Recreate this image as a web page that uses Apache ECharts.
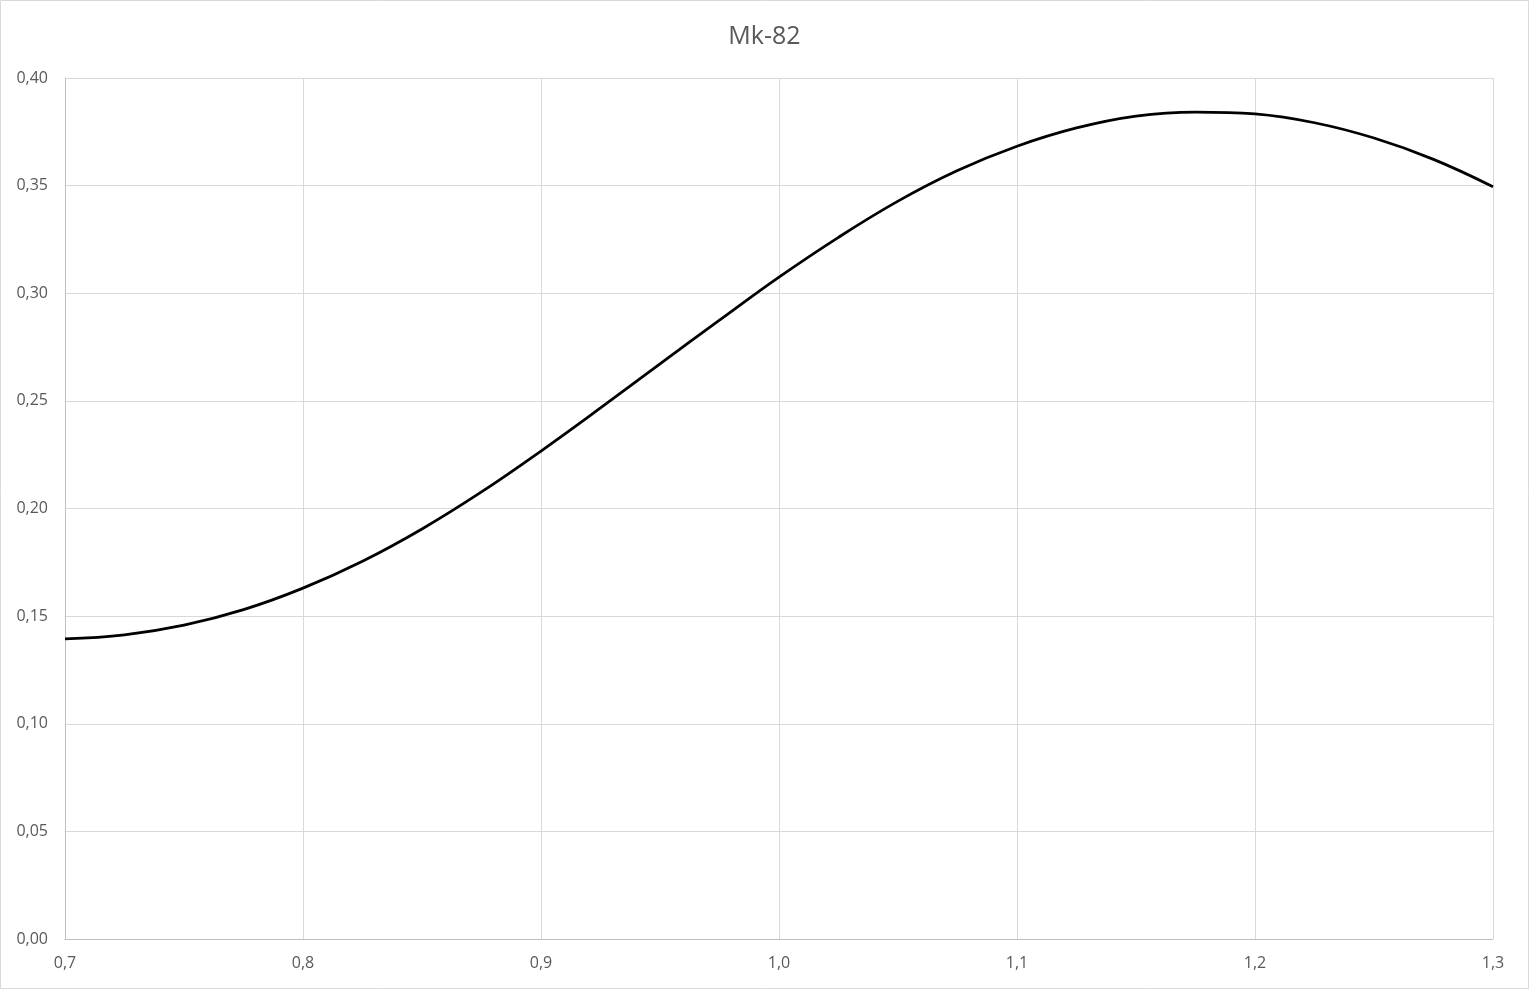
<!DOCTYPE html>
<html>
<head>
<meta charset="utf-8">
<script src="https://cdn.jsdelivr.net/npm/echarts@6/dist/echarts.min.js"></script>
<style>
  html, body { margin: 0; padding: 0; background: #fff; }
  #chart { width: 1529px; height: 989px; }
</style>
</head>
<body>
<div id="chart"></div>
<script>
// Mach number vs drag coefficient
const machValues = [0.7, 0.725, 0.75, 0.775, 0.8, 0.825, 0.85, 0.875, 0.9, 0.925, 0.95, 0.975,
  1.0, 1.025, 1.05, 1.075, 1.1, 1.125, 1.15, 1.175, 1.2, 1.225, 1.25, 1.275, 1.3]
const cdValues = [0.1394, 0.1413, 0.1458, 0.1530, 0.1630, 0.1755, 0.1905, 0.2077, 0.2267, 0.2467, 0.2672, 0.2875,
  0.3075, 0.3260, 0.3428, 0.3570, 0.3683, 0.3768, 0.3823, 0.3842, 0.3833, 0.3792, 0.3721, 0.3622, 0.3495]
const titleText = 'Mk-82'

const points = machValues.map((m, i) => [m, cdValues[i]])
const fontFamily = '"Open Sans", "Noto Sans", sans-serif'

let myChart = echarts.init(document.getElementById('chart'))
let option = {
  animation: false,
  backgroundColor: '#fff',
  title: {
    text: titleText,
    left: 'center',
    top: 19,
    textStyle: { color: '#595959', fontSize: 25, fontWeight: 'normal', fontFamily: fontFamily }
  },
  graphic: [{
    type: 'rect',
    shape: { x: 0.5, y: 0.5, width: 1528, height: 988 },
    style: { fill: 'none', stroke: '#d9d9d9', lineWidth: 1 },
    silent: true
  }],
  grid: { left: 65, right: 36, top: 78, bottom: 50, containLabel: false },
  xAxis: {
    type: 'value',
    min: 0.7,
    max: 1.3,
    interval: 0.1,
    axisLine: { show: true, lineStyle: { color: '#bfbfbf', width: 1 } },
    axisTick: { show: false },
    splitLine: { show: true, lineStyle: { color: '#d9d9d9', width: 1 } },
    axisLabel: {
      color: '#595959', fontSize: 16, fontFamily: fontFamily, margin: 16,
      formatter: v => v.toFixed(1).replace('.', ',')
    }
  },
  yAxis: {
    type: 'value',
    min: 0,
    max: 0.4,
    interval: 0.05,
    axisLine: { show: true, lineStyle: { color: '#bfbfbf', width: 1 } },
    axisTick: { show: false },
    splitLine: { show: true, lineStyle: { color: '#d9d9d9', width: 1 } },
    axisLabel: {
      color: '#595959', fontSize: 16, fontFamily: fontFamily, margin: 17,
      formatter: v => v.toFixed(2).replace('.', ',')
    }
  },
  series: [{
    type: 'line',
    data: points,
    smooth: 0.4,
    showSymbol: false,
    lineStyle: { color: '#000', width: 2.75 }
  }]
}
myChart.setOption(option)
</script>
</body>
</html>
